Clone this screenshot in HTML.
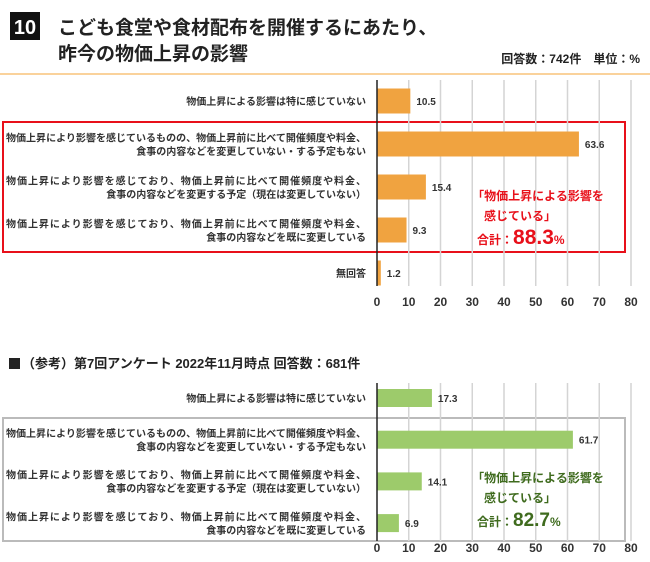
<!DOCTYPE html>
<html><head><meta charset="utf-8">
<style>
body{margin:0;background:#fff;}
svg{display:block;font-family:"Liberation Sans","Noto Sans CJK JP",sans-serif;}
</style></head>
<body>
<svg id="c" width="650" height="562">
<rect x="10" y="12" width="30" height="28" fill="#111"/>
<text x="25" y="34" font-size="20" font-weight="bold" fill="#fff" text-anchor="middle">10</text>
<text x="58" y="34" font-size="19" font-weight="bold" fill="#222">こども食堂や食材配布を開催するにあたり、</text>
<text x="58" y="60" font-size="19" font-weight="bold" fill="#222">昨今の物価上昇の影響</text>
<text x="640" y="63" font-size="12" font-weight="bold" fill="#222" text-anchor="end">回答数：742件　単位：%</text>
<line x1="0" y1="74" x2="650" y2="74" stroke="#f8c37a" stroke-width="1.5"/>
<rect x="9" y="358" width="11" height="11" fill="#222"/>
<text x="22" y="368" font-size="13" font-weight="bold" fill="#222">（参考）第7回アンケート 2022年11月時点 回答数：681件</text>
<rect x="3" y="122" width="622" height="130" fill="none" stroke="#e8101a" stroke-width="2"/>
<rect x="3" y="418" width="622" height="123" fill="none" stroke="#bbb" stroke-width="2"/>
<g id="g1"></g><g id="g2"></g>
<text x="538" y="200" font-size="12" font-weight="bold" fill="#e8101a" text-anchor="middle">「物価上昇による影響を</text>
<text x="520" y="220" font-size="12" font-weight="bold" fill="#e8101a" text-anchor="middle">感じている」</text>
<text x="477" y="244" font-size="12" font-weight="bold" fill="#e8101a">合計：<tspan font-size="21">88.3</tspan><tspan font-size="12">%</tspan></text>
<text x="538" y="482" font-size="12" font-weight="bold" fill="#3f6b1e" text-anchor="middle">「物価上昇による影響を</text>
<text x="520" y="502" font-size="12" font-weight="bold" fill="#3f6b1e" text-anchor="middle">感じている」</text>
<text x="477" y="526" font-size="12" font-weight="bold" fill="#3f6b1e">合計：<tspan font-size="19">82.7</tspan><tspan font-size="12">%</tspan></text>
</svg>
<script>
const ticks=[0,10,20,30,40,50,60,70,80];
const cats1=[["物価上昇による影響は特に感じていない"],["物価上昇により影響を感じているものの、物価上昇前に比べて開催頻度や料金、","食事の内容などを変更していない・する予定もない"],["物価上昇により影響を感じており、物価上昇前に比べて開催頻度や料金、","食事の内容などを変更する予定（現在は変更していない）"],["物価上昇により影響を感じており、物価上昇前に比べて開催頻度や料金、","食事の内容などを既に変更している"],["無回答"]];
const vals1=[10.5,63.6,15.4,9.3,1.2];
const cats2=cats1.slice(0,4);
const vals2=[17.3,61.7,14.1,6.9];
const NS="http://www.w3.org/2000/svg";
const x=v=>377+v*(631-377)/80;
function mk(p,t,a){const e=document.createElementNS(NS,t);for(const k in a)e.setAttribute(k,a[k]);p.appendChild(e);return e;}
function draw(gid,cats,vals,top,step,bh,gTop,gBot,color,axY,pre){
 const g=document.getElementById(gid);
 ticks.forEach(t=>{if(t>0){const l=mk(g,'line',{x1:x(t),x2:x(t),y1:gTop,y2:gBot,stroke:'#d4d4d4','stroke-width':1.5});
 
 }
 const tx=mk(g,'text',{x:x(t),y:axY,'font-size':12,'font-weight':'bold',fill:'#333','text-anchor':'middle'});tx.textContent=t;
 
 });
 vals.forEach((v,i)=>{const cy=top+i*step;
  const r=mk(g,'rect',{x:x(0),y:cy-bh/2,width:x(v)-x(0),height:bh,fill:color});
  
  
  const vt=mk(g,'text',{x:x(v)+6,y:cy+4,'font-size':10,'font-weight':'bold',fill:'#333'});vt.textContent=v.toFixed(1);
  
  
  const L=cats[i];L.forEach((s,j)=>{const ly=cy+4+(j-(L.length-1)/2)*13.5;
   const lt=mk(g,'text',{x:366,y:ly,'font-size':10,'font-weight':'bold',fill:'#333','text-anchor':'end','textLength':s.length>30?360:undefined});
   if(s.length<=30)lt.removeAttribute('textLength');
   lt.textContent=s;
   
   });});
 const ax=mk(g,'line',{x1:x(0),x2:x(0),y1:gTop,y2:gBot,stroke:'#222','stroke-width':1.5});
 
 
}
draw('g1',cats1,vals1,101,43,25,80,286,'#f0a340',306,'top-');
draw('g2',cats2,vals2,398,41.7,18,383,541,'#9dcb6b',552,'bottom-');
</script>
</body></html>
